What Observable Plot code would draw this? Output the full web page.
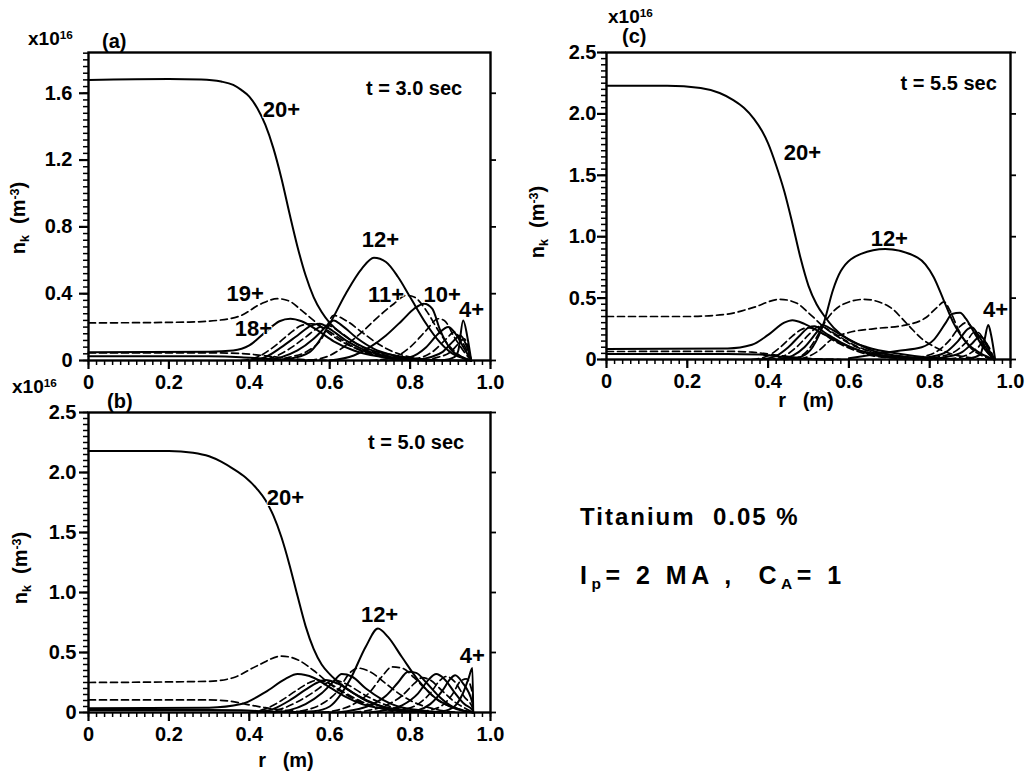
<!DOCTYPE html>
<html>
<head>
<meta charset="utf-8">
<script src="https://cdn.jsdelivr.net/npm/d3@7"></script>
<script src="https://cdn.jsdelivr.net/npm/@observablehq/plot@0.6"></script>
<style>
  html, body { margin: 0; padding: 0; background: #fff; }
  #root { position: relative; width: 1026px; height: 775px; overflow: hidden; background: #fff;
          font-family: "Liberation Sans Narrow", "Liberation Sans", Arial, sans-serif; font-weight: bold; color: #000; }
  .txt { position: absolute; white-space: nowrap; line-height: 1; }
  .txt sup { font-size: 0.62em; vertical-align: 0.55em; }
  .txt sub { font-size: 0.62em; vertical-align: -0.3em; }
  .rot { transform: translate(-50%, -50%) rotate(-90deg); }
  .wide { font-family: "Liberation Sans", Arial, sans-serif; }
</style>
</head>
<body>
<div id="root"></div>
<script>
// ---------- tick values and labels ----------
const xTicks = [0, 0.2, 0.4, 0.6, 0.8, 1.0];
const xTickLabels = ["0", "0.2", "0.4", "0.6", "0.8", "1.0"];
const yTicksA = [0, 0.4, 0.8, 1.2, 1.6];
const yTickLabelsA = ["0", "0.4", "0.8", "1.2", "1.6"];
const yTicksBC = [0, 0.5, 1.0, 1.5, 2.0, 2.5];
const yTickLabelsBC = ["0", "0.5", "1.0", "1.5", "2.0", "2.5"];

// ---------- panel (a): t = 3.0 sec  (ion charge, [r, n_k / 1e16]) ----------
const seriesA = [
  {ion: 22, pts: [[0,0.025],[0.3,0.025],[0.38,0.02],[0.44,0.01],[0.5,0.003],[0.56,0]]},
  {ion: 21, pts: [[0,0.045],[0.3,0.046],[0.38,0.042],[0.44,0.028],[0.5,0.012],[0.56,0.003],[0.62,0]]},
  {ion: 20, pts: [[0,1.68],[0.2,1.685],[0.28,1.682],[0.33,1.67],[0.36,1.65],[0.38,1.62],[0.40,1.58],[0.42,1.51],[0.44,1.41],[0.46,1.27],[0.48,1.09],[0.50,0.88],[0.52,0.68],[0.54,0.51],[0.56,0.38],[0.58,0.29],[0.60,0.225],[0.63,0.16],[0.668,0.10],[0.70,0.065],[0.74,0.04],[0.8,0.015],[0.86,0.003],[0.952,0]]},
  {ion: 19, pts: [[0,0.225],[0.25,0.23],[0.32,0.24],[0.38,0.27],[0.43,0.34],[0.47,0.37],[0.5,0.355],[0.53,0.3],[0.56,0.24],[0.6,0.16],[0.64,0.1],[0.68,0.06],[0.72,0.035],[0.78,0.012],[0.85,0]]},
  {ion: 18, pts: [[0,0.05],[0.3,0.053],[0.36,0.06],[0.4,0.09],[0.44,0.17],[0.475,0.235],[0.502,0.25],[0.53,0.235],[0.57,0.18],[0.61,0.115],[0.66,0.06],[0.72,0.025],[0.8,0.005],[0.86,0]]},
  {ion: 17, pts: [[0.38,0],[0.42,0.02],[0.46,0.08],[0.5,0.16],[0.53,0.21],[0.555,0.22],[0.58,0.2],[0.62,0.14],[0.66,0.08],[0.7,0.04],[0.76,0.01],[0.82,0]]},
  {ion: 16, pts: [[0.4,0],[0.44,0.02],[0.48,0.08],[0.52,0.15],[0.555,0.21],[0.575,0.22],[0.6,0.19],[0.64,0.12],[0.68,0.07],[0.74,0.025],[0.8,0]]},
  {ion: 15, pts: [[0.42,0],[0.46,0.02],[0.5,0.07],[0.54,0.14],[0.575,0.2],[0.595,0.21],[0.62,0.18],[0.66,0.11],[0.7,0.06],[0.76,0.02],[0.82,0]]},
  {ion: 14, pts: [[0.44,0],[0.48,0.02],[0.52,0.06],[0.56,0.13],[0.59,0.2],[0.61,0.24],[0.63,0.21],[0.67,0.13],[0.71,0.07],[0.76,0.03],[0.82,0]]},
  {ion: 13, pts: [[0.46,0],[0.5,0.02],[0.54,0.05],[0.58,0.13],[0.61,0.27],[0.64,0.24],[0.68,0.17],[0.72,0.1],[0.76,0.05],[0.8,0.02],[0.84,0]]},
  {ion: 12, pts: [[0.45,0],[0.5,0.01],[0.55,0.05],[0.6,0.22],[0.64,0.4],[0.68,0.55],[0.71,0.615],[0.74,0.59],[0.77,0.5],[0.8,0.38],[0.84,0.22],[0.87,0.12],[0.9,0.05],[0.93,0.015],[0.952,0]]},
  {ion: 11, pts: [[0.55,0],[0.6,0.03],[0.64,0.09],[0.68,0.17],[0.72,0.26],[0.76,0.34],[0.79,0.39],[0.81,0.38],[0.84,0.3],[0.87,0.18],[0.9,0.08],[0.93,0.02],[0.952,0]]},
  {ion: 10, pts: [[0.6,0],[0.66,0.03],[0.7,0.08],[0.74,0.15],[0.78,0.24],[0.81,0.31],[0.835,0.34],[0.855,0.31],[0.875,0.18],[0.9,0.07],[0.93,0.02],[0.952,0]]},
  {ion: 9, pts: [[0.7,0],[0.76,0.02],[0.8,0.08],[0.84,0.18],[0.87,0.25],[0.885,0.24],[0.91,0.14],[0.935,0.05],[0.952,0]]},
  {ion: 8, pts: [[0.74,0],[0.8,0.02],[0.84,0.08],[0.87,0.16],[0.895,0.2],[0.91,0.17],[0.935,0.07],[0.952,0]]},
  {ion: 7, pts: [[0.78,0],[0.83,0.02],[0.86,0.06],[0.89,0.13],[0.91,0.17],[0.925,0.13],[0.945,0.04],[0.952,0]]},
  {ion: 6, pts: [[0.8,0],[0.85,0.02],[0.88,0.05],[0.905,0.11],[0.925,0.15],[0.94,0.09],[0.952,0]]},
  {ion: 5, pts: [[0.83,0],[0.87,0.02],[0.9,0.05],[0.92,0.1],[0.935,0.13],[0.946,0.06],[0.952,0]]},
  {ion: 4, pts: [[0.88,0],[0.91,0.02],[0.92,0.06],[0.932,0.24],[0.944,0.12],[0.952,0]]}
];
const labelsA = [
  {t: "20+", r: 0.48, n: 1.50}, {t: "12+", r: 0.726, n: 0.72}, {t: "19+", r: 0.39, n: 0.40},
  {t: "18+", r: 0.41, n: 0.19}, {t: "11+", r: 0.74, n: 0.39}, {t: "10+", r: 0.88, n: 0.39},
  {t: "4+", r: 0.953, n: 0.30}
];
const timeA = {t: "t = 3.0 sec", r: 0.81, n: 1.63};

// ---------- panel (b): t = 5.0 sec ----------
const seriesB = [
  {ion: 22, pts: [[0,0.02],[0.3,0.02],[0.38,0.018],[0.44,0.01],[0.5,0.003],[0.56,0]]},
  {ion: 21, pts: [[0,0.105],[0.3,0.105],[0.35,0.095],[0.39,0.07],[0.44,0.04],[0.5,0.015],[0.56,0.004],[0.62,0]]},
  {ion: 20, pts: [[0,2.18],[0.2,2.18],[0.26,2.165],[0.3,2.135],[0.33,2.09],[0.36,2.03],[0.39,1.96],[0.42,1.86],[0.44,1.77],[0.46,1.64],[0.48,1.46],[0.50,1.23],[0.52,0.97],[0.54,0.72],[0.56,0.53],[0.58,0.40],[0.60,0.32],[0.63,0.23],[0.66,0.16],[0.69,0.1],[0.72,0.06],[0.76,0.03],[0.84,0.005],[0.9,0]]},
  {ion: 19, pts: [[0,0.25],[0.3,0.26],[0.36,0.29],[0.42,0.39],[0.48,0.47],[0.52,0.44],[0.56,0.35],[0.6,0.24],[0.64,0.15],[0.68,0.08],[0.74,0.03],[0.8,0.008],[0.86,0]]},
  {ion: 18, pts: [[0,0.035],[0.3,0.04],[0.38,0.07],[0.44,0.17],[0.49,0.28],[0.52,0.32],[0.56,0.29],[0.6,0.21],[0.64,0.13],[0.68,0.07],[0.74,0.03],[0.8,0.008],[0.86,0]]},
  {ion: 17, pts: [[0.4,0],[0.44,0.03],[0.48,0.1],[0.52,0.19],[0.55,0.25],[0.57,0.27],[0.6,0.24],[0.64,0.16],[0.68,0.09],[0.72,0.04],[0.78,0.01],[0.84,0]]},
  {ion: 16, pts: [[0.42,0],[0.46,0.03],[0.5,0.1],[0.54,0.19],[0.57,0.25],[0.59,0.27],[0.62,0.24],[0.66,0.16],[0.7,0.09],[0.74,0.04],[0.8,0.01],[0.86,0]]},
  {ion: 15, pts: [[0.44,0],[0.48,0.03],[0.52,0.09],[0.56,0.17],[0.59,0.24],[0.61,0.27],[0.64,0.24],[0.68,0.16],[0.72,0.09],[0.76,0.04],[0.82,0.01],[0.88,0]]},
  {ion: 14, pts: [[0.46,0],[0.5,0.02],[0.54,0.07],[0.58,0.16],[0.61,0.26],[0.63,0.32],[0.655,0.3],[0.69,0.2],[0.73,0.11],[0.77,0.05],[0.82,0.02],[0.88,0]]},
  {ion: 13, pts: [[0.5,0],[0.54,0.02],[0.58,0.07],[0.62,0.18],[0.65,0.33],[0.67,0.37],[0.7,0.34],[0.74,0.24],[0.78,0.14],[0.82,0.07],[0.86,0.03],[0.92,0]]},
  {ion: 12, pts: [[0.5,0],[0.56,0.01],[0.6,0.05],[0.65,0.27],[0.69,0.55],[0.72,0.7],[0.745,0.63],[0.78,0.46],[0.82,0.27],[0.86,0.13],[0.9,0.05],[0.93,0.015],[0.957,0]]},
  {ion: 11, pts: [[0.58,0],[0.62,0.02],[0.66,0.07],[0.7,0.17],[0.73,0.3],[0.755,0.38],[0.78,0.37],[0.81,0.29],[0.84,0.19],[0.87,0.1],[0.9,0.05],[0.93,0.02],[0.957,0]]},
  {ion: 10, pts: [[0.62,0],[0.66,0.02],[0.7,0.06],[0.74,0.14],[0.77,0.25],[0.795,0.34],[0.815,0.33],[0.84,0.25],[0.87,0.14],[0.9,0.06],[0.93,0.02],[0.957,0]]},
  {ion: 9, pts: [[0.66,0],[0.7,0.02],[0.74,0.06],[0.78,0.14],[0.81,0.24],[0.83,0.29],[0.85,0.27],[0.88,0.18],[0.91,0.09],[0.94,0.03],[0.957,0]]},
  {ion: 8, pts: [[0.7,0],[0.74,0.02],[0.78,0.06],[0.82,0.16],[0.845,0.27],[0.865,0.32],[0.885,0.28],[0.91,0.17],[0.935,0.07],[0.955,0.02],[0.957,0]]},
  {ion: 7, pts: [[0.74,0],[0.78,0.02],[0.82,0.07],[0.85,0.16],[0.875,0.27],[0.89,0.3],[0.91,0.26],[0.935,0.13],[0.955,0.04],[0.957,0]]},
  {ion: 6, pts: [[0.78,0],[0.82,0.02],[0.85,0.07],[0.88,0.18],[0.9,0.28],[0.912,0.31],[0.93,0.25],[0.955,0.08],[0.957,0]]},
  {ion: 5, pts: [[0.8,0],[0.85,0.02],[0.88,0.06],[0.905,0.15],[0.925,0.26],[0.94,0.28],[0.955,0.16],[0.957,0]]},
  {ion: 4, pts: [[0.84,0],[0.88,0.01],[0.91,0.05],[0.93,0.15],[0.945,0.28],[0.955,0.37],[0.957,0]]}
];
const labelsB = [
  {t: "20+", r: 0.49, n: 1.79}, {t: "12+", r: 0.724, n: 0.81}, {t: "4+", r: 0.955, n: 0.475}
];
const timeB = {t: "t = 5.0 sec", r: 0.815, n: 2.25};

// ---------- panel (c): t = 5.5 sec ----------
const seriesC = [
  {ion: 22, pts: [[0,0.045],[0.3,0.045],[0.38,0.04],[0.44,0.02],[0.5,0.005],[0.56,0]]},
  {ion: 21, pts: [[0,0.065],[0.3,0.066],[0.36,0.06],[0.41,0.04],[0.46,0.02],[0.52,0.005],[0.58,0]]},
  {ion: 20, pts: [[0,2.23],[0.15,2.23],[0.233,2.21],[0.28,2.17],[0.315,2.11],[0.34,2.05],[0.365,1.96],[0.385,1.86],[0.40,1.76],[0.42,1.58],[0.44,1.37],[0.46,1.11],[0.48,0.83],[0.50,0.6],[0.52,0.45],[0.54,0.35],[0.562,0.26],[0.6,0.16],[0.645,0.1],[0.728,0.045],[0.8,0.015],[0.86,0]]},
  {ion: 19, pts: [[0,0.35],[0.2,0.35],[0.3,0.37],[0.36,0.42],[0.43,0.49],[0.47,0.46],[0.5,0.38],[0.54,0.26],[0.58,0.17],[0.62,0.1],[0.68,0.05],[0.75,0.02],[0.82,0]]},
  {ion: 18, pts: [[0,0.085],[0.3,0.09],[0.36,0.12],[0.4,0.2],[0.44,0.3],[0.46,0.32],[0.49,0.29],[0.53,0.22],[0.57,0.15],[0.62,0.08],[0.67,0.04],[0.74,0.01],[0.8,0]]},
  {ion: 17, pts: [[0.36,0],[0.4,0.03],[0.43,0.1],[0.46,0.19],[0.48,0.24],[0.5,0.26],[0.53,0.22],[0.57,0.14],[0.61,0.08],[0.66,0.03],[0.72,0.01],[0.78,0]]},
  {ion: 16, pts: [[0.38,0],[0.42,0.03],[0.45,0.1],[0.48,0.2],[0.5,0.26],[0.515,0.27],[0.54,0.22],[0.58,0.14],[0.62,0.08],[0.67,0.03],[0.74,0.01],[0.8,0]]},
  {ion: 15, pts: [[0.4,0],[0.44,0.03],[0.47,0.1],[0.5,0.2],[0.52,0.26],[0.53,0.27],[0.56,0.22],[0.6,0.14],[0.64,0.08],[0.69,0.03],[0.76,0.01],[0.82,0]]},
  {ion: 14, pts: [[0.42,0],[0.46,0.03],[0.49,0.1],[0.52,0.22],[0.535,0.28],[0.55,0.26],[0.58,0.2],[0.62,0.13],[0.66,0.07],[0.72,0.03],[0.8,0]]},
  {ion: 13, pts: [[0.46,0],[0.5,0.08],[0.52,0.18],[0.542,0.31],[0.58,0.44],[0.637,0.49],[0.7,0.43],[0.744,0.29],[0.78,0.17],[0.82,0.09],[0.86,0.04],[0.9,0.015],[0.96,0]]},
  {ion: 12, pts: [[0.44,0],[0.48,0.02],[0.51,0.1],[0.54,0.32],[0.56,0.56],[0.58,0.72],[0.63,0.86],[0.69,0.9],[0.77,0.83],[0.81,0.67],[0.835,0.48],[0.86,0.29],[0.893,0.13],[0.926,0.05],[0.96,0]]},
  {ion: 11, pts: [[0.48,0],[0.52,0.06],[0.56,0.17],[0.6,0.22],[0.66,0.25],[0.74,0.28],[0.79,0.34],[0.82,0.43],[0.835,0.47],[0.85,0.4],[0.87,0.25],[0.9,0.1],[0.93,0.03],[0.96,0]]},
  {ion: 10, pts: [[0.6,0.01],[0.66,0.04],[0.72,0.07],[0.78,0.1],[0.81,0.16],[0.84,0.3],[0.855,0.37],[0.875,0.38],[0.89,0.33],[0.91,0.22],[0.93,0.11],[0.96,0]]},
  {ion: 9, pts: [[0.74,0],[0.78,0.02],[0.82,0.07],[0.85,0.16],[0.875,0.27],[0.89,0.3],[0.905,0.26],[0.925,0.15],[0.945,0.05],[0.96,0]]},
  {ion: 8, pts: [[0.76,0],[0.8,0.02],[0.84,0.06],[0.87,0.15],[0.895,0.25],[0.905,0.26],[0.92,0.2],[0.94,0.09],[0.96,0]]},
  {ion: 7, pts: [[0.78,0],[0.82,0.02],[0.86,0.06],[0.89,0.14],[0.91,0.22],[0.92,0.22],[0.935,0.15],[0.95,0.05],[0.96,0]]},
  {ion: 6, pts: [[0.8,0],[0.84,0.02],[0.88,0.06],[0.905,0.13],[0.925,0.19],[0.935,0.16],[0.948,0.07],[0.96,0]]},
  {ion: 5, pts: [[0.82,0],[0.86,0.01],[0.9,0.05],[0.92,0.1],[0.935,0.15],[0.945,0.11],[0.96,0]]},
  {ion: 4, pts: [[0.86,0],[0.9,0.01],[0.925,0.04],[0.935,0.15],[0.945,0.28],[0.952,0.2],[0.962,0]]}
];
const labelsC = [
  {t: "20+", r: 0.485, n: 1.68}, {t: "12+", r: 0.70, n: 0.98}, {t: "4+", r: 0.963, n: 0.40}
];
const timeC = {t: "t = 5.5 sec", r: 0.847, n: 2.25};

// ---------- drawing ----------
const FONT = "Liberation Sans Narrow, Liberation Sans, Arial, sans-serif";
const root = document.getElementById("root");

function rows(series) {
  return series.flatMap(s => s.pts.map(([r, n]) => ({ion: s.ion, r, n, solid: s.ion % 2 === 0})));
}

function panel(cfg) {
  const data = rows(cfg.series);
  const xMinor = d3.range(0, 1.0001, 0.02);
  const yMinor = d3.range(0, cfg.yMax + 1e-9, cfg.yMinorStep);
  // tick lengths expressed in data units (pixels / scale factor)
  const kx = 1 / (cfg.width - cfg.ml - cfg.mr);
  const ky = cfg.yMax / (cfg.height - cfg.mt - cfg.mb);
  const fmt = (ticks, labels) => d => { const i = ticks.findIndex(t => Math.abs(t - d) < 1e-9); return i < 0 ? "" : labels[i]; };
  const chart = Plot.plot({
    width: cfg.width, height: cfg.height,
    marginLeft: cfg.ml, marginRight: cfg.mr, marginTop: cfg.mt, marginBottom: cfg.mb,
    style: {fontFamily: FONT, fontWeight: "bold", fontSize: "20px", background: "transparent", overflow: "visible"},
    x: {domain: [0, 1], label: null},
    y: {domain: [0, cfg.yMax], label: null},
    marks: [
      Plot.axisX({ticks: xTicks, tickSize: 0, tickPadding: 14, tickFormat: fmt(xTicks, xTickLabels), fontSize: 20, fontWeight: "bold", label: null}),
      Plot.axisY({ticks: cfg.yTicks, tickSize: 0, tickPadding: cfg.yPad, tickFormat: fmt(cfg.yTicks, cfg.yLabels), fontSize: 20, fontWeight: "bold", label: null}),
      // minor + major ticks, outward, bottom and left; major ticks on the right
      Plot.ruleX(xMinor, {x: d => d, y1: 0, y2: -5 * ky, stroke: "black", strokeWidth: 1.5}),
      Plot.ruleX(xTicks, {x: d => d, y1: 0, y2: -9 * ky, stroke: "black", strokeWidth: 2.2}),
      Plot.ruleY(yMinor, {y: d => d, x1: 0, x2: -5 * kx, stroke: "black", strokeWidth: 1.5}),
      Plot.ruleY(cfg.yTicks, {y: d => d, x1: 0, x2: -9 * kx, stroke: "black", strokeWidth: 2.2}),
      Plot.ruleY(cfg.yTicks, {y: d => d, x1: 1, x2: 1 + 6 * kx, stroke: "black", strokeWidth: 1.8}),
      Plot.frame({stroke: "black", strokeWidth: 2.4}),
      Plot.line(data.filter(d => !d.solid), {x: "r", y: "n", z: "ion", curve: "monotone-x", stroke: "black", strokeWidth: 1.7, strokeDasharray: "7,4"}),
      Plot.line(data.filter(d => d.solid), {x: "r", y: "n", z: "ion", curve: "monotone-x", stroke: "black", strokeWidth: 2}),
      Plot.text(cfg.labels, {x: "r", y: "n", text: "t", fontSize: 22, fontWeight: "bold", fill: "black", stroke: "white", strokeWidth: 2, paintOrder: "stroke"}),
      Plot.text([cfg.time], {x: "r", y: "n", text: "t", fontSize: 20, fontWeight: "bold", fill: "black"})
    ]
  });
  chart.style.left = cfg.left + "px";
  chart.style.top = cfg.top + "px";
  chart.style.position = "absolute";
  root.appendChild(chart);
}

panel({series: seriesA, labels: labelsA, time: timeA, yMax: 1.844, yTicks: yTicksA, yLabels: yTickLabelsA, yMinorStep: 0.04, yPad: 16,
       width: 510, height: 400, ml: 88, mr: 20, mt: 52, mb: 40, left: 0, top: 0});
panel({series: seriesC, labels: labelsC, time: timeC, yMax: 2.5, yTicks: yTicksBC, yLabels: yTickLabelsBC, yMinorStep: 0.05, yPad: 10,
       width: 516, height: 400, ml: 96, mr: 16, mt: 52, mb: 41, left: 510, top: 0});
panel({series: seriesB, labels: labelsB, time: timeB, yMax: 2.5, yTicks: yTicksBC, yLabels: yTickLabelsBC, yMinorStep: 0.05, yPad: 12,
       width: 510, height: 395, ml: 88, mr: 20, mt: 32, mb: 63, left: 0, top: 380});

// ---------- text overlays ----------
function addText(html, x, y, size, extra) {
  const d = document.createElement("div");
  d.className = "txt" + (extra && extra.rot ? " rot" : "") + (extra && extra.wide ? " wide" : "");
  d.innerHTML = html;
  d.style.left = x + "px";
  d.style.top = y + "px";
  d.style.fontSize = size + "px";
  if (extra && extra.center) d.style.transform = "translate(-50%, -50%)";
  if (extra && extra.spacing) d.style.letterSpacing = extra.spacing;
  root.appendChild(d);
}
addText("x10<sup>16</sup>", 28, 29, 19);
addText("(a)", 102, 31, 20);
addText("x10<sup>16</sup>", 12, 377, 19);
addText("(b)", 107, 391, 20);
addText("x10<sup>16</sup>", 608, 7, 19);
addText("(c)", 622, 26, 20);
addText("n<sub>k</sub>&nbsp;&nbsp;(m<sup>-3</sup>)", 20, 218, 20, {rot: true});
addText("n<sub>k</sub>&nbsp;&nbsp;(m<sup>-3</sup>)", 22, 568, 20, {rot: true});
addText("n<sub>k</sub>&nbsp;&nbsp;(m<sup>-3</sup>)", 539, 222, 20, {rot: true});
addText("r&nbsp;&nbsp;&nbsp;(m)", 286, 760, 20, {center: true});
addText("r&nbsp;&nbsp;&nbsp;(m)", 806, 400, 20, {center: true});
addText("Titanium&nbsp;&nbsp;0.05 %", 580, 505, 24, {spacing: "2px", wide: true});
addText("I<sub>p</sub>= 2 MA ,&nbsp;&nbsp;C<sub>A</sub>= 1", 580, 563, 25, {spacing: "4.5px", wide: true});
</script>
</body>
</html>
